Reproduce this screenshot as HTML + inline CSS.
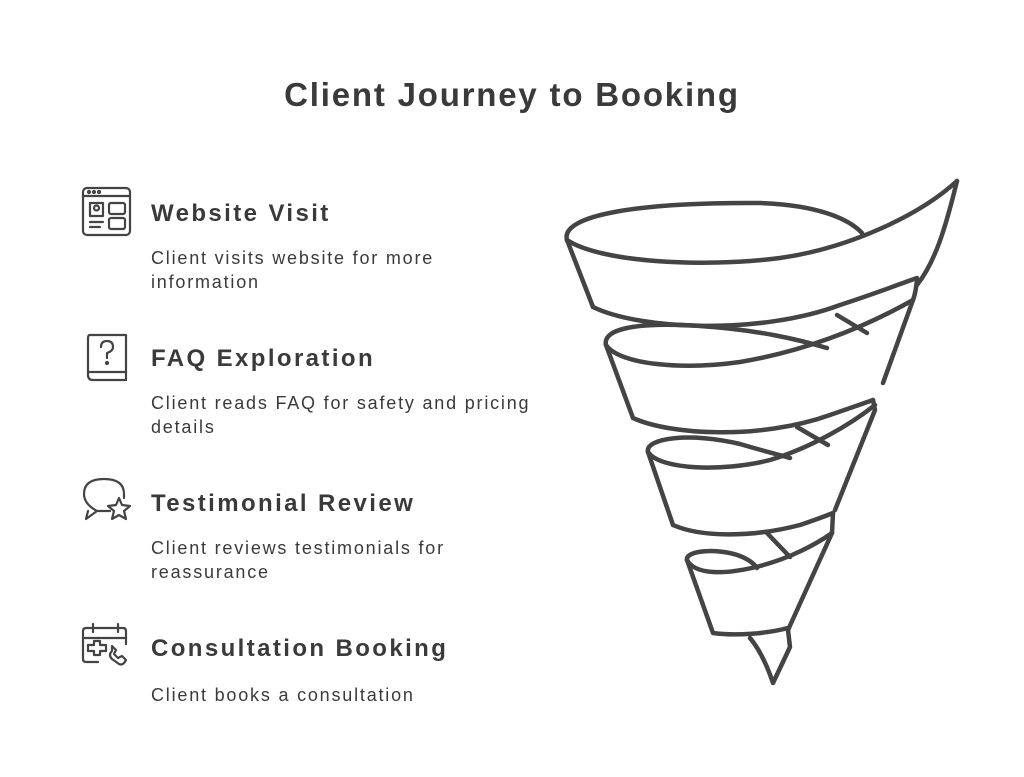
<!DOCTYPE html>
<html><head><meta charset="utf-8"><style>
body{margin:0;width:1024px;height:777px;background:#fff;position:relative;overflow:hidden;font-family:"Liberation Sans",sans-serif;color:#3a3a3a}
.t{position:absolute;left:0;width:1024px;top:76px;text-align:center;font-size:33px;font-weight:bold;letter-spacing:1.8px}
.h{position:absolute;left:151px;font-size:24px;font-weight:bold;letter-spacing:2.4px}
.b{position:absolute;left:151px;font-size:18px;line-height:24px;width:420px;letter-spacing:1.8px}
</style></head><body>
<div class="t">Client Journey to Booking</div>
<div class="h" style="top:200px">Website Visit</div>
<div class="b" style="top:246px">Client visits website for more<br>information</div>
<div class="h" style="top:345px">FAQ Exploration</div>
<div class="b" style="top:391px">Client reads FAQ for safety and pricing<br>details</div>
<div class="h" style="top:490px">Testimonial Review</div>
<div class="b" style="top:536px">Client reviews testimonials for<br>reassurance</div>
<div class="h" style="top:635px">Consultation Booking</div>
<div class="b" style="top:683px">Client books a consultation</div>
<svg width="1024" height="777" style="position:absolute;left:0;top:0" fill="none" stroke="#444" stroke-width="2.2" stroke-linecap="round" stroke-linejoin="round">
<rect x="83" y="188" width="47" height="47" rx="4"/><line x1="83" y1="196" x2="130" y2="196"/>
<circle cx="89" cy="192" r="1"/><circle cx="94" cy="192" r="1"/><circle cx="99" cy="192" r="1"/>
<rect x="90" y="203" width="13" height="13"/><circle cx="96.5" cy="208" r="2.5"/>
<rect x="109" y="203" width="16" height="11" rx="2"/><rect x="109" y="218" width="16" height="11" rx="2"/>
<line x1="90" y1="222" x2="103" y2="222"/><line x1="90" y1="227" x2="100" y2="227"/>
<path d="M90,335 H126 V380 H93 Q88,380 88,375 V338 Q88,335 90,335 Z"/><path d="M88,372 H126"/>
<path d="M101,347 Q101,341 107,341 Q113,341 113,347 Q113,351 107,353 V358"/><circle cx="107" cy="363" r="1"/>
<path d="M97,511 Q84,504 84,494 Q84,479 104,479 Q124,479 124,494 L124,498 M97,511 L86,519 L88,511 M97,511 L110,511"/>
<path d="M119,498 L122,505 L130,506 L124,511 L126,519 L119,515 L112,519 L114,511 L108,506 L116,505 Z"/>
<path d="M98,662 H86 Q83,662 83,659 V631 Q83,628 86,628 H123 Q126,628 126,631 V644 M83,638 H126 M93,624 V632 M118,624 V632 M93,628 H118"/>
<path d="M88,645 H94 V641 H100 V645 H106 V651 H100 V655 H94 V651 H88 Z"/>
<path d="M112,651 Q108,655 112,659 L119,664 Q123,666 126,660 L122,656 L118,658 L114,654 L116,650 L112,646 Z"/>
<g stroke-width="4.5">
<path d="M567,240 C560,215 640,202 760,203 C820,205 850,220 862,233"/>
<path d="M567,240 C600,262 700,268 780,258 C850,248 920,215 957,181"/>
<path d="M957,181 C945,230 935,262 917,285"/>
<path d="M567,240 L593,307"/>
<path d="M593,307 C640,330 760,335 840,305 C880,292 905,282 917,278"/>
<path d="M917,280 C916,290 915,295 913,300 L883,383"/>
<path d="M837,315 L867,333"/>
<path d="M606,345 C602,328 640,322 700,326 C760,330 800,340 827,348"/>
<path d="M606,345 C620,365 683,370 740,362 C800,352 860,330 913,300"/>
<path d="M606,345 L633,418"/>
<path d="M633,418 C670,435 760,440 830,415 C850,408 865,403 873,400"/>
<path d="M873,400 L875,410 L835,510"/>
<path d="M797,427 L828,445"/>
<path d="M648,452 C645,438 690,432 740,444 C760,450 780,455 790,458"/>
<path d="M648,452 C660,470 723,472 770,460 C810,448 850,425 875,405"/>
<path d="M648,452 L673,525"/>
<path d="M673,525 C700,537 750,538 800,525 C815,520 828,515 833,513"/>
<path d="M833,513 L832,533 L788,630"/>
<path d="M767,533 L790,557"/>
<path d="M687,560 C685,550 720,548 740,556 C750,560 755,565 757,568"/>
<path d="M687,560 C695,575 725,575 760,566 C790,558 815,545 832,533"/>
<path d="M687,560 L713,633 C735,636 765,634 788,628"/>
<path d="M750,638 C760,650 767,665 773,683 L790,647 L788,630"/>
</g>
</svg>
</body></html>
